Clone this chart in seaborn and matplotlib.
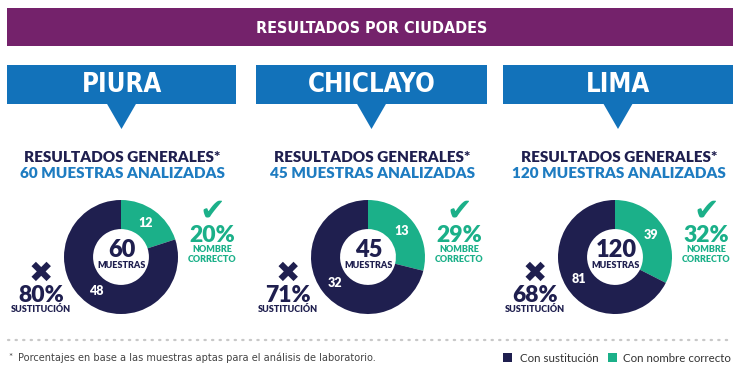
import matplotlib
matplotlib.use("Agg")
import matplotlib.pyplot as plt
from matplotlib.patches import Rectangle, Polygon
import seaborn as sns

# data
cities = ["PIURA", "CHICLAYO", "LIMA"]
totals = [60, 45, 120]
sustitucion = [48, 32, 81]
correcto = [12, 13, 39]
pct_sust = [80, 71, 68]
pct_corr = [20, 29, 32]
legend_labels = ["Con sustitución", "Con nombre correcto"]

navy = "#1f1f4f"
green = "#1bb089"
blue = "#1272ba"
purple = "#74226b"
title_blue = "#1e7cc1"

sns.set_theme(style="white")
plt.rcParams["font.family"] = ["Lato", "DejaVu Sans"]

W, H = 747, 374
fig = plt.figure(figsize=(W / 100, H / 100), dpi=100)
ax = fig.add_axes([0, 0, 1, 1])
ax.set_xlim(0, W)
ax.set_ylim(H, 0)
ax.axis("off")

cond = dict(family=["DejaVu Sans"], stretch="condensed", weight="bold")

# banner
ax.add_patch(Rectangle((7, 8), 726, 38, color=purple, lw=0))
ax.text(372, 28, "RESULTADOS POR CIUDADES", color="white", fontsize=11.5,
        ha="center", va="center", **cond)

boxes = [(7, 236), (256, 487), (503, 733)]
donut_x = [121, 368, 615]
R = 57

for i, city in enumerate(cities):
    x0, x1 = boxes[i]
    bc = (x0 + x1) / 2
    ax.add_patch(Rectangle((x0, 65), x1 - x0, 39, color=blue, lw=0))
    ax.add_patch(Polygon([(bc - 15, 103), (bc + 15, 103), (bc, 129)], color=blue, lw=0))
    ax.text(bc, 85, city, color="white", fontsize=18.5, ha="center", va="center", **cond)

    ax.text(bc + 1, 157, "RESULTADOS GENERALES*", color=navy, fontsize=11,
            weight="heavy", ha="center", va="center")
    ax.text(bc + 1, 173, f"{totals[i]} MUESTRAS ANALIZADAS", color=title_blue,
            fontsize=11, weight="heavy", ha="center", va="center")

    cx, cy = donut_x[i], 257
    dax = fig.add_axes([(cx - R) / W, 1 - (cy + R) / H, 2 * R / W, 2 * R / H])
    dax.pie([correcto[i], sustitucion[i]], colors=[green, navy], startangle=90,
            counterclock=False, radius=1, labels=[correcto[i], sustitucion[i]],
            labeldistance=0.74,
            textprops=dict(color="white", fontsize=9, weight="heavy",
                           ha="center", va="center"),
            wedgeprops=dict(width=0.51, linewidth=0))
    dax.set_xlim(-1, 1)
    dax.set_ylim(-1, 1)
    dax.set_aspect("equal")
    dax.axis("off")

    ax.text(cx + 1, 250, str(totals[i]), color=navy, fontsize=17, weight="heavy",
            ha="center", va="center")
    ax.text(cx + 1, 265, "MUESTRAS", color=navy, fontsize=6.5, weight="heavy",
            ha="center", va="center")

    # nombre correcto
    gx = cx + 91
    ax.text(gx, 211, "\u2714", color=green, fontsize=22, ha="center", va="center",
            family="DejaVu Sans")
    ax.text(gx, 235, f"{pct_corr[i]}%", color=green, fontsize=16.5, weight="heavy",
            ha="center", va="center")
    ax.text(gx, 249, "NOMBRE", color=green, fontsize=6.5, weight="heavy",
            ha="center", va="center")
    ax.text(gx, 259, "CORRECTO", color=green, fontsize=6.5, weight="heavy",
            ha="center", va="center")

    # sustitucion
    sx = cx - 80
    ax.text(sx, 274, "\u2716", color=navy, fontsize=21, ha="center", va="center",
            family="DejaVu Sans")
    ax.text(sx, 296, f"{pct_sust[i]}%", color=navy, fontsize=16.5, weight="heavy",
            ha="center", va="center")
    ax.text(sx, 310, "SUSTITUCIÓN", color=navy, fontsize=6.5, weight="heavy",
            ha="center", va="center")

# dotted separator
ax.plot([8, 733], [340, 340], color="#c8c8c8", lw=1.6, ls=(0, (0.6, 2.8)),
        dash_capstyle="round")

ax.text(8, 357, "*", color="#444444", fontsize=7, va="center")
ax.text(18, 358, "Porcentajes en base a las muestras aptas para el análisis de laboratorio.",
        color="#444444", fontsize=7.8, va="center", **dict(cond, weight="normal"))

# legend
ax.add_patch(Rectangle((503, 353), 9, 9, color=navy, lw=0))
ax.text(520, 358, legend_labels[0], color="#333333", fontsize=8.3, va="center")
ax.add_patch(Rectangle((608, 353), 9, 9, color=green, lw=0))
ax.text(623, 358, legend_labels[1], color="#333333", fontsize=8.3, va="center")

fig.savefig("out.png", dpi=100)
